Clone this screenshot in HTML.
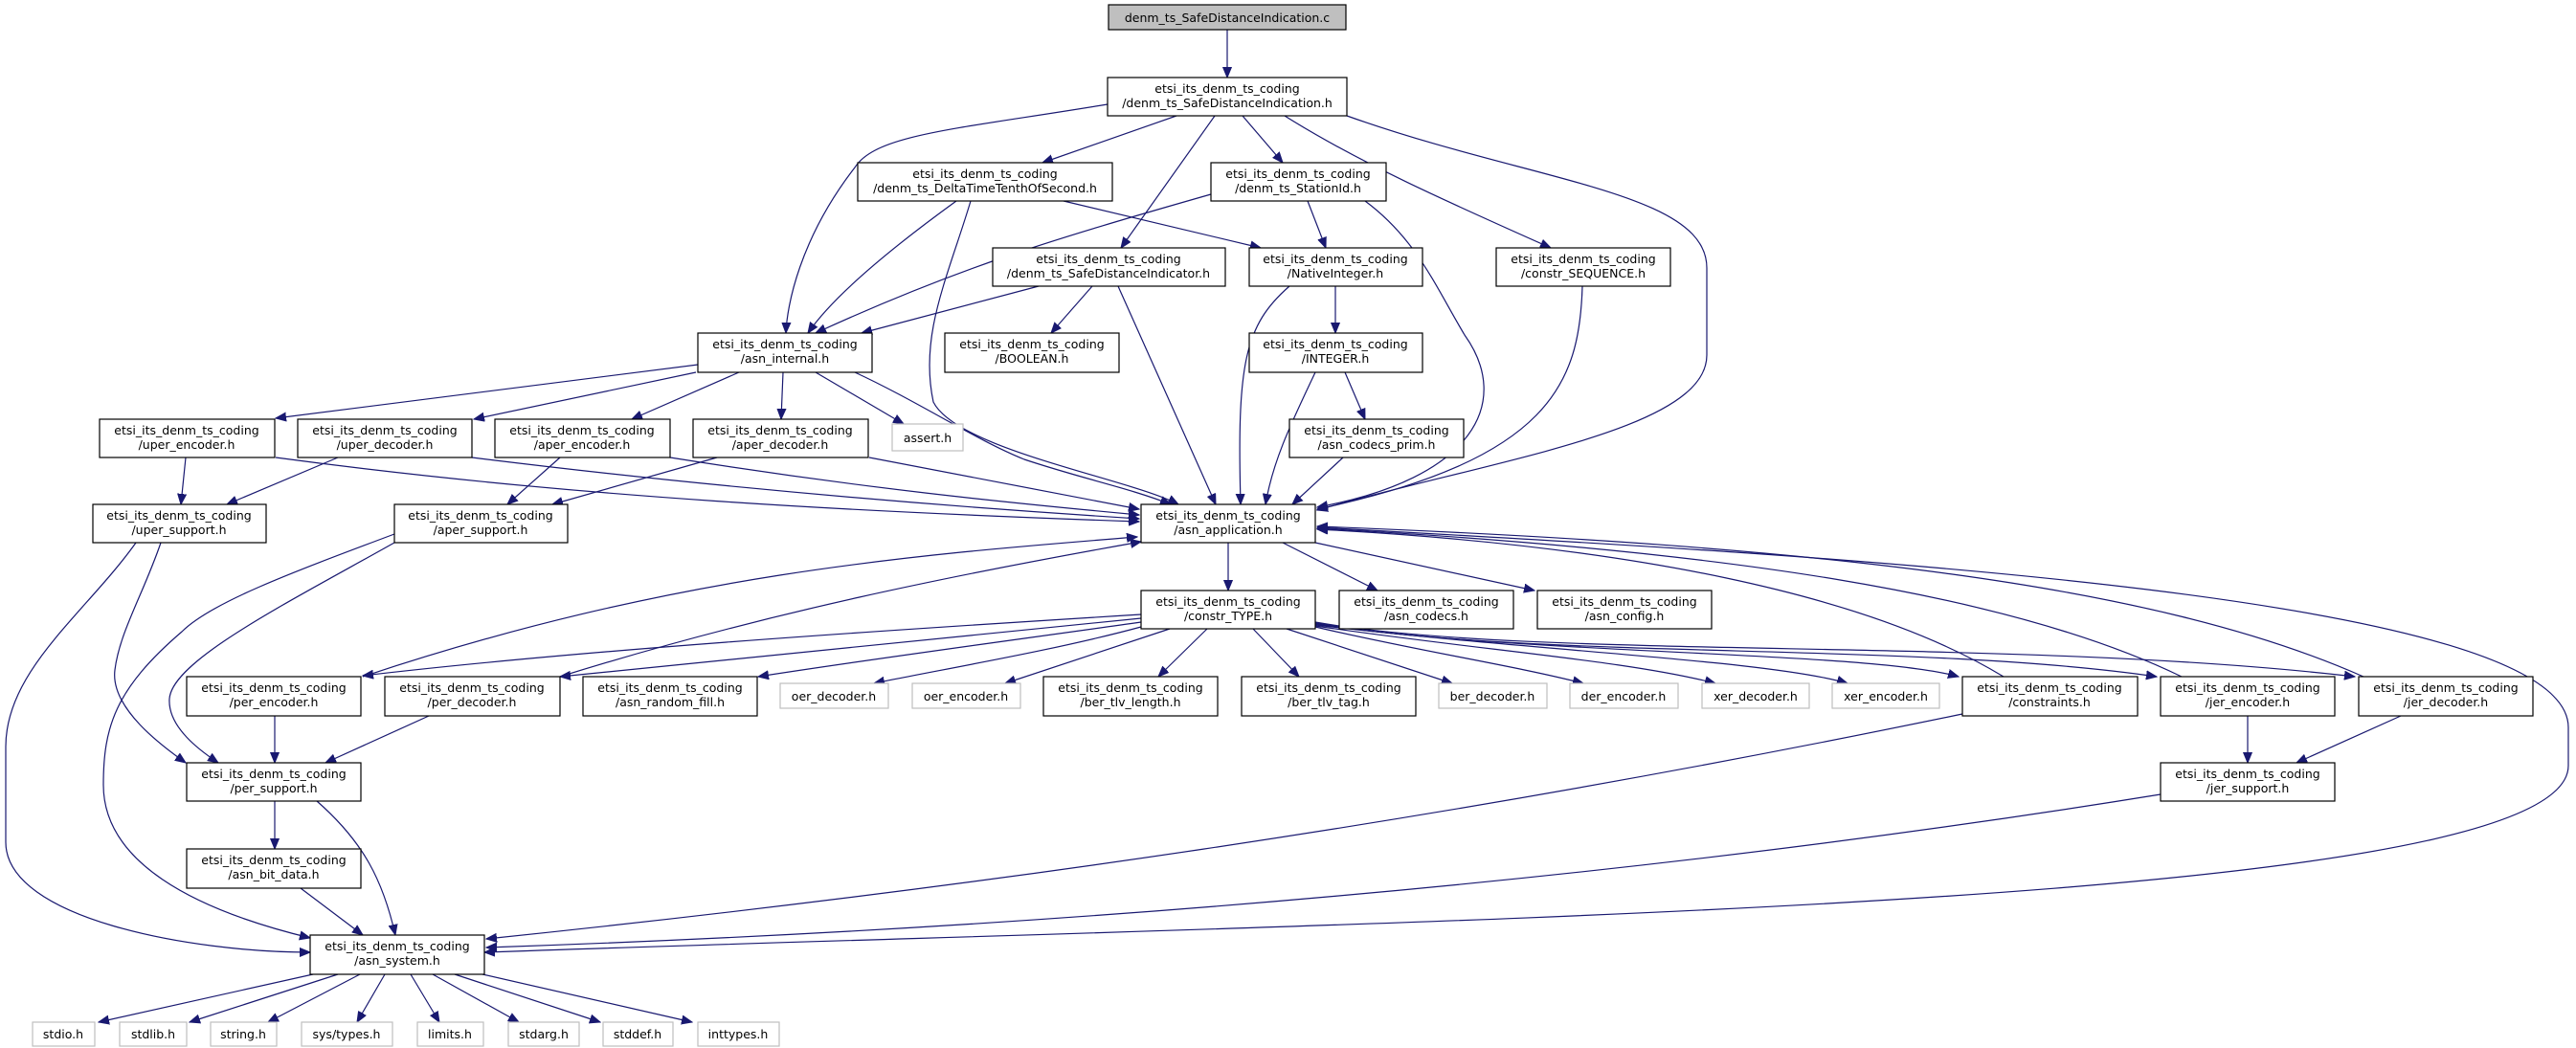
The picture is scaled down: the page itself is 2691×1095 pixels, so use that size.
<!DOCTYPE html>
<html><head><meta charset="utf-8"><style>
html,body{margin:0;padding:0;background:#fff}
svg{display:block}
text{font-family:"DejaVu Sans","Liberation Sans",sans-serif;font-size:12.5px;fill:#000}
.e{fill:none;stroke:#191970;stroke-width:1.2}
.n{fill:#fff;stroke:#000;stroke-width:1.2}
.g{fill:#fff;stroke:#bfbfbf;stroke-width:1.2}
</style></head><body>
<svg width="2691" height="1095" viewBox="0 0 2691 1095" xmlns="http://www.w3.org/2000/svg">
<defs><marker id="a" markerWidth="12" markerHeight="10" refX="11" refY="5" orient="auto" markerUnits="userSpaceOnUse"><path d="M0,0.5 L11,5 L0,9.5 Z" fill="#191970" stroke="#191970"/></marker></defs>
<g class="e" marker-end="url(#a)">
<path d="M1282,31 L1282,81"/>
<path d="M1157,109 C1000,135 915,140 893,175 C835,250 822,320 821,348"/>
<path d="M1229,121 L1089,170"/>
<path d="M1269,121 L1171,259"/>
<path d="M1298,121 L1340,170"/>
<path d="M1342,121 C1420,170 1510,210 1620,259"/>
<path d="M1407,121 C1600,190 1783,200 1783,280 L1783,371 C1783,450 1560,480 1376,533"/>
<path d="M999,210 C930,260 870,310 844,348"/>
<path d="M1014,210 C990,290 960,350 975,420 C1000,470 1180,500 1231,527"/>
<path d="M1111,210 L1317,259"/>
<path d="M1265,203 C1100,250 1000,280 852,348"/>
<path d="M1366,210 L1385,259"/>
<path d="M1426,210 C1480,250 1500,300 1530,350 C1580,420 1540,500 1376,530"/>
<path d="M1085,299 L900,348"/>
<path d="M1141,299 L1098,348"/>
<path d="M1168,299 L1270,527"/>
<path d="M1347,299 C1300,340 1292,380 1296,527"/>
<path d="M1395,299 L1395,348"/>
<path d="M1653,299 C1650,400 1620,480 1376,532"/>
<path d="M1405,389 L1426,438"/>
<path d="M1374,389 C1350,440 1330,480 1322,527"/>
<path d="M1403,478 L1350,527"/>
<path d="M729,381 L288,437"/>
<path d="M727,389 L495,438"/>
<path d="M772,389 L660,438"/>
<path d="M818,389 L816,438"/>
<path d="M852,389 L944,443"/>
<path d="M893,389 C960,420 1020,460 1070,480 C1130,500 1180,510 1223,527"/>
<path d="M194,478 L189,527"/>
<path d="M288,478 C600,520 900,535 1190,545"/>
<path d="M353,478 L237,527"/>
<path d="M493,478 C750,510 1000,530 1190,542"/>
<path d="M585,478 L530,527"/>
<path d="M700,478 C900,510 1050,525 1190,538"/>
<path d="M749,478 L577,527"/>
<path d="M908,478 L1190,532"/>
<path d="M168,567 C150,620 125,660 120,700 C115,740 170,780 194,797"/>
<path d="M142,567 C90,640 6,700 6,780 L6,880 C6,960 200,995 324,995"/>
<path d="M412,567 C300,630 180,690 177,730 C175,760 210,785 228,797"/>
<path d="M412,558 C300,600 220,630 190,660 C120,720 108,760 108,820 C108,900 200,950 324,980"/>
<path d="M287,837 L287,887"/>
<path d="M331,837 C380,880 400,920 413,977"/>
<path d="M314,928 L379,977"/>
<path d="M327,1018 L103,1068"/>
<path d="M353,1018 L198,1068"/>
<path d="M376,1018 L280,1068"/>
<path d="M402,1018 L373,1068"/>
<path d="M429,1018 L459,1068"/>
<path d="M452,1018 L542,1068"/>
<path d="M475,1018 L627,1068"/>
<path d="M504,1018 L723,1068"/>
<path d="M1283,567 L1283,617"/>
<path d="M1340,567 L1439,617"/>
<path d="M1374,567 L1603,617"/>
<path d="M1376,551 C1900,580 2683,620 2683,760 L2683,800 C2683,950 1500,960 506,995"/>
<path d="M1192,642 C900,660 600,680 379,706"/>
<path d="M1192,646 C950,670 750,690 585,707"/>
<path d="M1192,650 C1050,670 900,690 792,707"/>
<path d="M1192,655 C1100,680 980,700 913,714"/>
<path d="M1222,657 L1050,714"/>
<path d="M1261,657 L1210,707"/>
<path d="M1309,657 L1357,707"/>
<path d="M1344,657 L1517,714"/>
<path d="M1374,655 C1480,680 1580,695 1654,714"/>
<path d="M1374,654 C1550,680 1700,690 1792,714"/>
<path d="M1374,653 C1600,680 1850,690 1930,714"/>
<path d="M1374,652 C1600,685 1950,680 2046,707"/>
<path d="M1374,651 C1600,690 2000,670 2253,707"/>
<path d="M1374,650 C1600,690 2100,665 2460,707"/>
<path d="M379,707 C700,600 950,580 1188,561"/>
<path d="M585,707 C800,640 1000,600 1192,566"/>
<path d="M2093,707 C1950,620 1700,570 1376,553"/>
<path d="M2279,707 C2100,620 1800,575 1376,552"/>
<path d="M2469,707 C2250,610 1900,570 1376,550"/>
<path d="M287,748 L287,797"/>
<path d="M448,748 L340,797"/>
<path d="M2050,746 C1500,860 1000,930 508,981"/>
<path d="M2348,748 L2348,797"/>
<path d="M2508,748 L2399,797"/>
<path d="M2257,830 C1700,920 1100,970 508,990"/>
</g>
<rect x="1158" y="5" width="248" height="26" fill="#bfbfbf" stroke="#000" stroke-width="1.2"/>
<text x="1282" y="23" text-anchor="middle">denm_ts_SafeDistanceIndication.c</text>
<g id="nodes"></g>
<g text-anchor="middle">
<!-- two-line nodes -->
<rect class="n" x="1157" y="81" width="250" height="40"/><text x="1282" y="97">etsi_its_denm_ts_coding</text><text x="1282" y="112">/denm_ts_SafeDistanceIndication.h</text>
<rect class="n" x="896" y="170" width="266" height="40"/><text x="1029" y="186">etsi_its_denm_ts_coding</text><text x="1029" y="201">/denm_ts_DeltaTimeTenthOfSecond.h</text>
<rect class="n" x="1265" y="170" width="183" height="40"/><text x="1356" y="186">etsi_its_denm_ts_coding</text><text x="1356" y="201">/denm_ts_StationId.h</text>
<rect class="n" x="1037" y="259" width="243" height="40"/><text x="1158" y="275">etsi_its_denm_ts_coding</text><text x="1158" y="290">/denm_ts_SafeDistanceIndicator.h</text>
<rect class="n" x="1305" y="259" width="181" height="40"/><text x="1395" y="275">etsi_its_denm_ts_coding</text><text x="1395" y="290">/NativeInteger.h</text>
<rect class="n" x="1563" y="259" width="182" height="40"/><text x="1654" y="275">etsi_its_denm_ts_coding</text><text x="1654" y="290">/constr_SEQUENCE.h</text>
<rect class="n" x="729" y="348" width="182" height="41"/><text x="820" y="364">etsi_its_denm_ts_coding</text><text x="820" y="379">/asn_internal.h</text>
<rect class="n" x="987" y="348" width="182" height="41"/><text x="1078" y="364">etsi_its_denm_ts_coding</text><text x="1078" y="379">/BOOLEAN.h</text>
<rect class="n" x="1305" y="348" width="181" height="41"/><text x="1395" y="364">etsi_its_denm_ts_coding</text><text x="1395" y="379">/INTEGER.h</text>
<rect class="n" x="104" y="438" width="183" height="40"/><text x="195" y="454">etsi_its_denm_ts_coding</text><text x="195" y="469">/uper_encoder.h</text>
<rect class="n" x="311" y="438" width="182" height="40"/><text x="402" y="454">etsi_its_denm_ts_coding</text><text x="402" y="469">/uper_decoder.h</text>
<rect class="n" x="517" y="438" width="183" height="40"/><text x="608" y="454">etsi_its_denm_ts_coding</text><text x="608" y="469">/aper_encoder.h</text>
<rect class="n" x="724" y="438" width="183" height="40"/><text x="815" y="454">etsi_its_denm_ts_coding</text><text x="815" y="469">/aper_decoder.h</text>
<rect class="n" x="1347" y="438" width="182" height="40"/><text x="1438" y="454">etsi_its_denm_ts_coding</text><text x="1438" y="469">/asn_codecs_prim.h</text>
<rect class="n" x="97" y="527" width="181" height="40"/><text x="187" y="543">etsi_its_denm_ts_coding</text><text x="187" y="558">/uper_support.h</text>
<rect class="n" x="412" y="527" width="181" height="40"/><text x="502" y="543">etsi_its_denm_ts_coding</text><text x="502" y="558">/aper_support.h</text>
<rect class="n" x="1192" y="527" width="182" height="40"/><text x="1283" y="543">etsi_its_denm_ts_coding</text><text x="1283" y="558">/asn_application.h</text>
<rect class="n" x="1192" y="617" width="182" height="40"/><text x="1283" y="633">etsi_its_denm_ts_coding</text><text x="1283" y="648">/constr_TYPE.h</text>
<rect class="n" x="1399" y="617" width="182" height="40"/><text x="1490" y="633">etsi_its_denm_ts_coding</text><text x="1490" y="648">/asn_codecs.h</text>
<rect class="n" x="1606" y="617" width="182" height="40"/><text x="1697" y="633">etsi_its_denm_ts_coding</text><text x="1697" y="648">/asn_config.h</text>
<rect class="n" x="195" y="707" width="182" height="41"/><text x="286" y="723">etsi_its_denm_ts_coding</text><text x="286" y="738">/per_encoder.h</text>
<rect class="n" x="402" y="707" width="183" height="41"/><text x="493" y="723">etsi_its_denm_ts_coding</text><text x="493" y="738">/per_decoder.h</text>
<rect class="n" x="609" y="707" width="182" height="41"/><text x="700" y="723">etsi_its_denm_ts_coding</text><text x="700" y="738">/asn_random_fill.h</text>
<rect class="n" x="1090" y="707" width="182" height="41"/><text x="1181" y="723">etsi_its_denm_ts_coding</text><text x="1181" y="738">/ber_tlv_length.h</text>
<rect class="n" x="1297" y="707" width="182" height="41"/><text x="1388" y="723">etsi_its_denm_ts_coding</text><text x="1388" y="738">/ber_tlv_tag.h</text>
<rect class="n" x="2050" y="707" width="183" height="41"/><text x="2141" y="723">etsi_its_denm_ts_coding</text><text x="2141" y="738">/constraints.h</text>
<rect class="n" x="2257" y="707" width="182" height="41"/><text x="2348" y="723">etsi_its_denm_ts_coding</text><text x="2348" y="738">/jer_encoder.h</text>
<rect class="n" x="2464" y="707" width="182" height="41"/><text x="2555" y="723">etsi_its_denm_ts_coding</text><text x="2555" y="738">/jer_decoder.h</text>
<rect class="n" x="195" y="797" width="182" height="40"/><text x="286" y="813">etsi_its_denm_ts_coding</text><text x="286" y="828">/per_support.h</text>
<rect class="n" x="2257" y="797" width="182" height="40"/><text x="2348" y="813">etsi_its_denm_ts_coding</text><text x="2348" y="828">/jer_support.h</text>
<rect class="n" x="195" y="887" width="182" height="41"/><text x="286" y="903">etsi_its_denm_ts_coding</text><text x="286" y="918">/asn_bit_data.h</text>
<rect class="n" x="324" y="977" width="182" height="41"/><text x="415" y="993">etsi_its_denm_ts_coding</text><text x="415" y="1008">/asn_system.h</text>
<!-- gray nodes -->
<rect class="g" x="932" y="443" width="74" height="28"/><text x="969" y="462">assert.h</text>
<rect class="g" x="815" y="714" width="113" height="26"/><text x="871" y="732">oer_decoder.h</text>
<rect class="g" x="953" y="714" width="113" height="26"/><text x="1009" y="732">oer_encoder.h</text>
<rect class="g" x="1503" y="714" width="113" height="26"/><text x="1559" y="732">ber_decoder.h</text>
<rect class="g" x="1640" y="714" width="113" height="26"/><text x="1696" y="732">der_encoder.h</text>
<rect class="g" x="1778" y="714" width="112" height="26"/><text x="1834" y="732">xer_decoder.h</text>
<rect class="g" x="1914" y="714" width="112" height="26"/><text x="1970" y="732">xer_encoder.h</text>
<rect class="g" x="34" y="1068" width="65" height="25"/><text x="66" y="1085">stdio.h</text>
<rect class="g" x="125" y="1068" width="70" height="25"/><text x="160" y="1085">stdlib.h</text>
<rect class="g" x="220" y="1068" width="69" height="25"/><text x="254" y="1085">string.h</text>
<rect class="g" x="315" y="1068" width="95" height="25"/><text x="362" y="1085">sys/types.h</text>
<rect class="g" x="436" y="1068" width="69" height="25"/><text x="470" y="1085">limits.h</text>
<rect class="g" x="531" y="1068" width="74" height="25"/><text x="568" y="1085">stdarg.h</text>
<rect class="g" x="630" y="1068" width="73" height="25"/><text x="666" y="1085">stddef.h</text>
<rect class="g" x="729" y="1068" width="85" height="25"/><text x="771" y="1085">inttypes.h</text>
</g>
</svg>
</body></html>
